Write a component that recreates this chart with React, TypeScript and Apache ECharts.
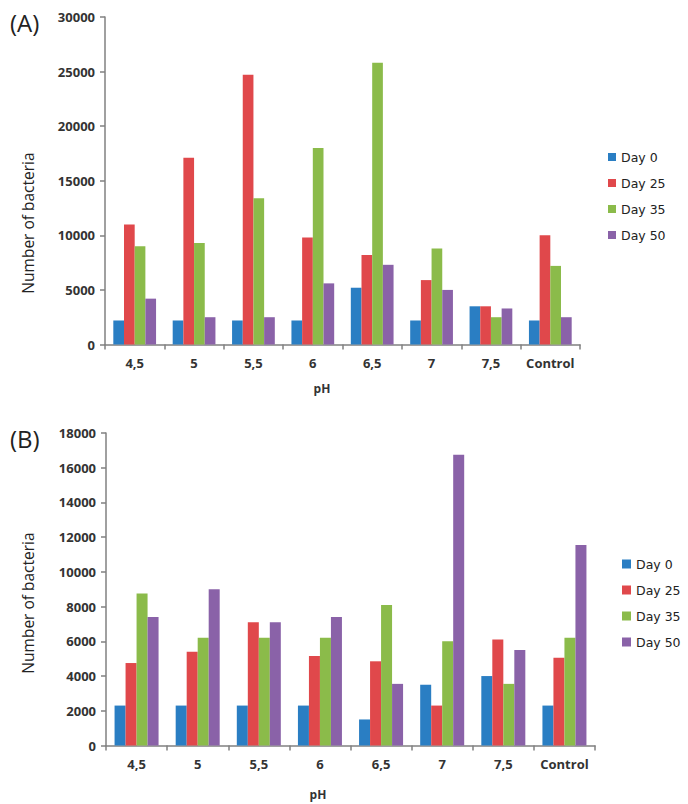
import React, { useEffect, useRef } from "react";
import * as echarts from "echarts";

const categories = ["4,5", "5", "5,5", "6", "6,5", "7", "7,5", "Control"];
const seriesNames = ["Day 0", "Day 25", "Day 35", "Day 50"];

const aDay0 = [2200, 2200, 2200, 2200, 5200, 2200, 3500, 2200];
const aDay25 = [11000, 17100, 24700, 9800, 8200, 5900, 3500, 10000];
const aDay35 = [9000, 9300, 13400, 18000, 25800, 8800, 2500, 7200];
const aDay50 = [4200, 2500, 2500, 5600, 7300, 5000, 3300, 2500];

const bDay0 = [2300, 2300, 2300, 2300, 1500, 3500, 4000, 2300];
const bDay25 = [4750, 5400, 7100, 5150, 4850, 2300, 6100, 5050];
const bDay35 = [8750, 6200, 6200, 6200, 8100, 6000, 3550, 6200];
const bDay50 = [7400, 9000, 7100, 7400, 3550, 16750, 5500, 11550];

const colors = ["#2a7ec3", "#e0484b", "#8bbb4a", "#8a62a8"];

export default function App() {
  const ref = useRef<HTMLDivElement>(null);
  useEffect(() => {
    if (!ref.current) return;
    const chart = echarts.init(ref.current, undefined, { renderer: "svg" });
    const axisLineStyle = { color: "#808080", width: 1.5 };
    const labelStyle = {
      color: "#333",
      fontWeight: "bold" as const,
      fontSize: 13,
      fontFamily: "Open Sans",
    };
    const mkX = (gi: number) => ({
      type: "category" as const,
      gridIndex: gi,
      data: categories,
      axisLine: { lineStyle: axisLineStyle },
      axisTick: { show: true, length: 5, lineStyle: axisLineStyle, alignWithLabel: false },
      axisLabel: { ...labelStyle, margin: 12, interval: 0 },
      splitLine: { show: false },
    });
    const mkY = (gi: number, max: number, interval: number) => ({
      type: "value" as const,
      gridIndex: gi,
      min: 0,
      max,
      interval,
      axisLine: { show: true, lineStyle: axisLineStyle },
      axisTick: { show: true, length: 5, lineStyle: axisLineStyle },
      axisLabel: { ...labelStyle, margin: 10, formatter: (v: number) => String(v) },
      splitLine: { show: false },
    });
    const aData = [aDay0, aDay25, aDay35, aDay50];
    const bData = [bDay0, bDay25, bDay35, bDay50];
    const series: any[] = [];
    [aData, bData].forEach((set, gi) => {
      set.forEach((d, i) => {
        series.push({
          type: "bar",
          name: seriesNames[i],
          xAxisIndex: gi,
          yAxisIndex: gi,
          data: d,
          barGap: "0%",
          barCategoryGap: "28%",
          itemStyle: { color: colors[i] },
        });
      });
    });
    const legendText = { color: "#222", fontSize: 12.5, fontFamily: "DejaVu Sans", lineHeight: 14 };
    chart.setOption({
      animation: false,
      backgroundColor: "#fff",
      color: colors,
      grid: [
        { left: 105, top: 17, width: 475, height: 327.5 },
        { left: 106, top: 433, width: 489, height: 312.5 },
      ],
      xAxis: [mkX(0), mkX(1)],
      yAxis: [mkY(0, 30000, 5000), mkY(1, 18000, 2000)],
      legend: [
        {
          orient: "vertical",
          left: 603,
          top: 145,
          itemWidth: 8,
          itemHeight: 8,
          itemGap: 12,
          data: seriesNames,
          textStyle: legendText,
          icon: "rect",
        },
        {
          orient: "vertical",
          left: 617,
          top: 552,
          itemWidth: 9,
          itemHeight: 9,
          itemGap: 12,
          data: seriesNames,
          textStyle: legendText,
          icon: "rect",
        },
      ],
      graphic: [
        { type: "text", left: 10, top: 10, style: { text: "(A)", fontSize: 24, fill: "#222", fontFamily: "Open Sans" } },
        { type: "text", left: 10, top: 426, style: { text: "(B)", fontSize: 24, fill: "#222", fontFamily: "Open Sans" } },
        {
          type: "text",
          x: 28,
          y: 223,
          rotation: Math.PI / 2,
          style: {
            text: "Number of bacteria",
            fontSize: 15.5,
            fill: "#222",
            fontFamily: "Open Sans",
            align: "center",
            verticalAlign: "middle",
          },
        },
        {
          type: "text",
          x: 28,
          y: 603,
          rotation: Math.PI / 2,
          style: {
            text: "Number of bacteria",
            fontSize: 15.5,
            fill: "#222",
            fontFamily: "Open Sans",
            align: "center",
            verticalAlign: "middle",
          },
        },
        {
          type: "text",
          x: 322,
          y: 388,
          style: { text: "pH", fontSize: 12, fill: "#333", fontWeight: "bold", fontFamily: "Open Sans", align: "center", verticalAlign: "middle" },
        },
        {
          type: "text",
          x: 318,
          y: 794,
          style: { text: "pH", fontSize: 12, fill: "#333", fontWeight: "bold", fontFamily: "Open Sans", align: "center", verticalAlign: "middle" },
        },
      ],
      series,
    });
    return () => chart.dispose();
  }, []);
  return (
    <div
      ref={ref}
      style={{ position: "absolute", left: 0, top: 0, width: 688, height: 804 }}
    />
  );
}
